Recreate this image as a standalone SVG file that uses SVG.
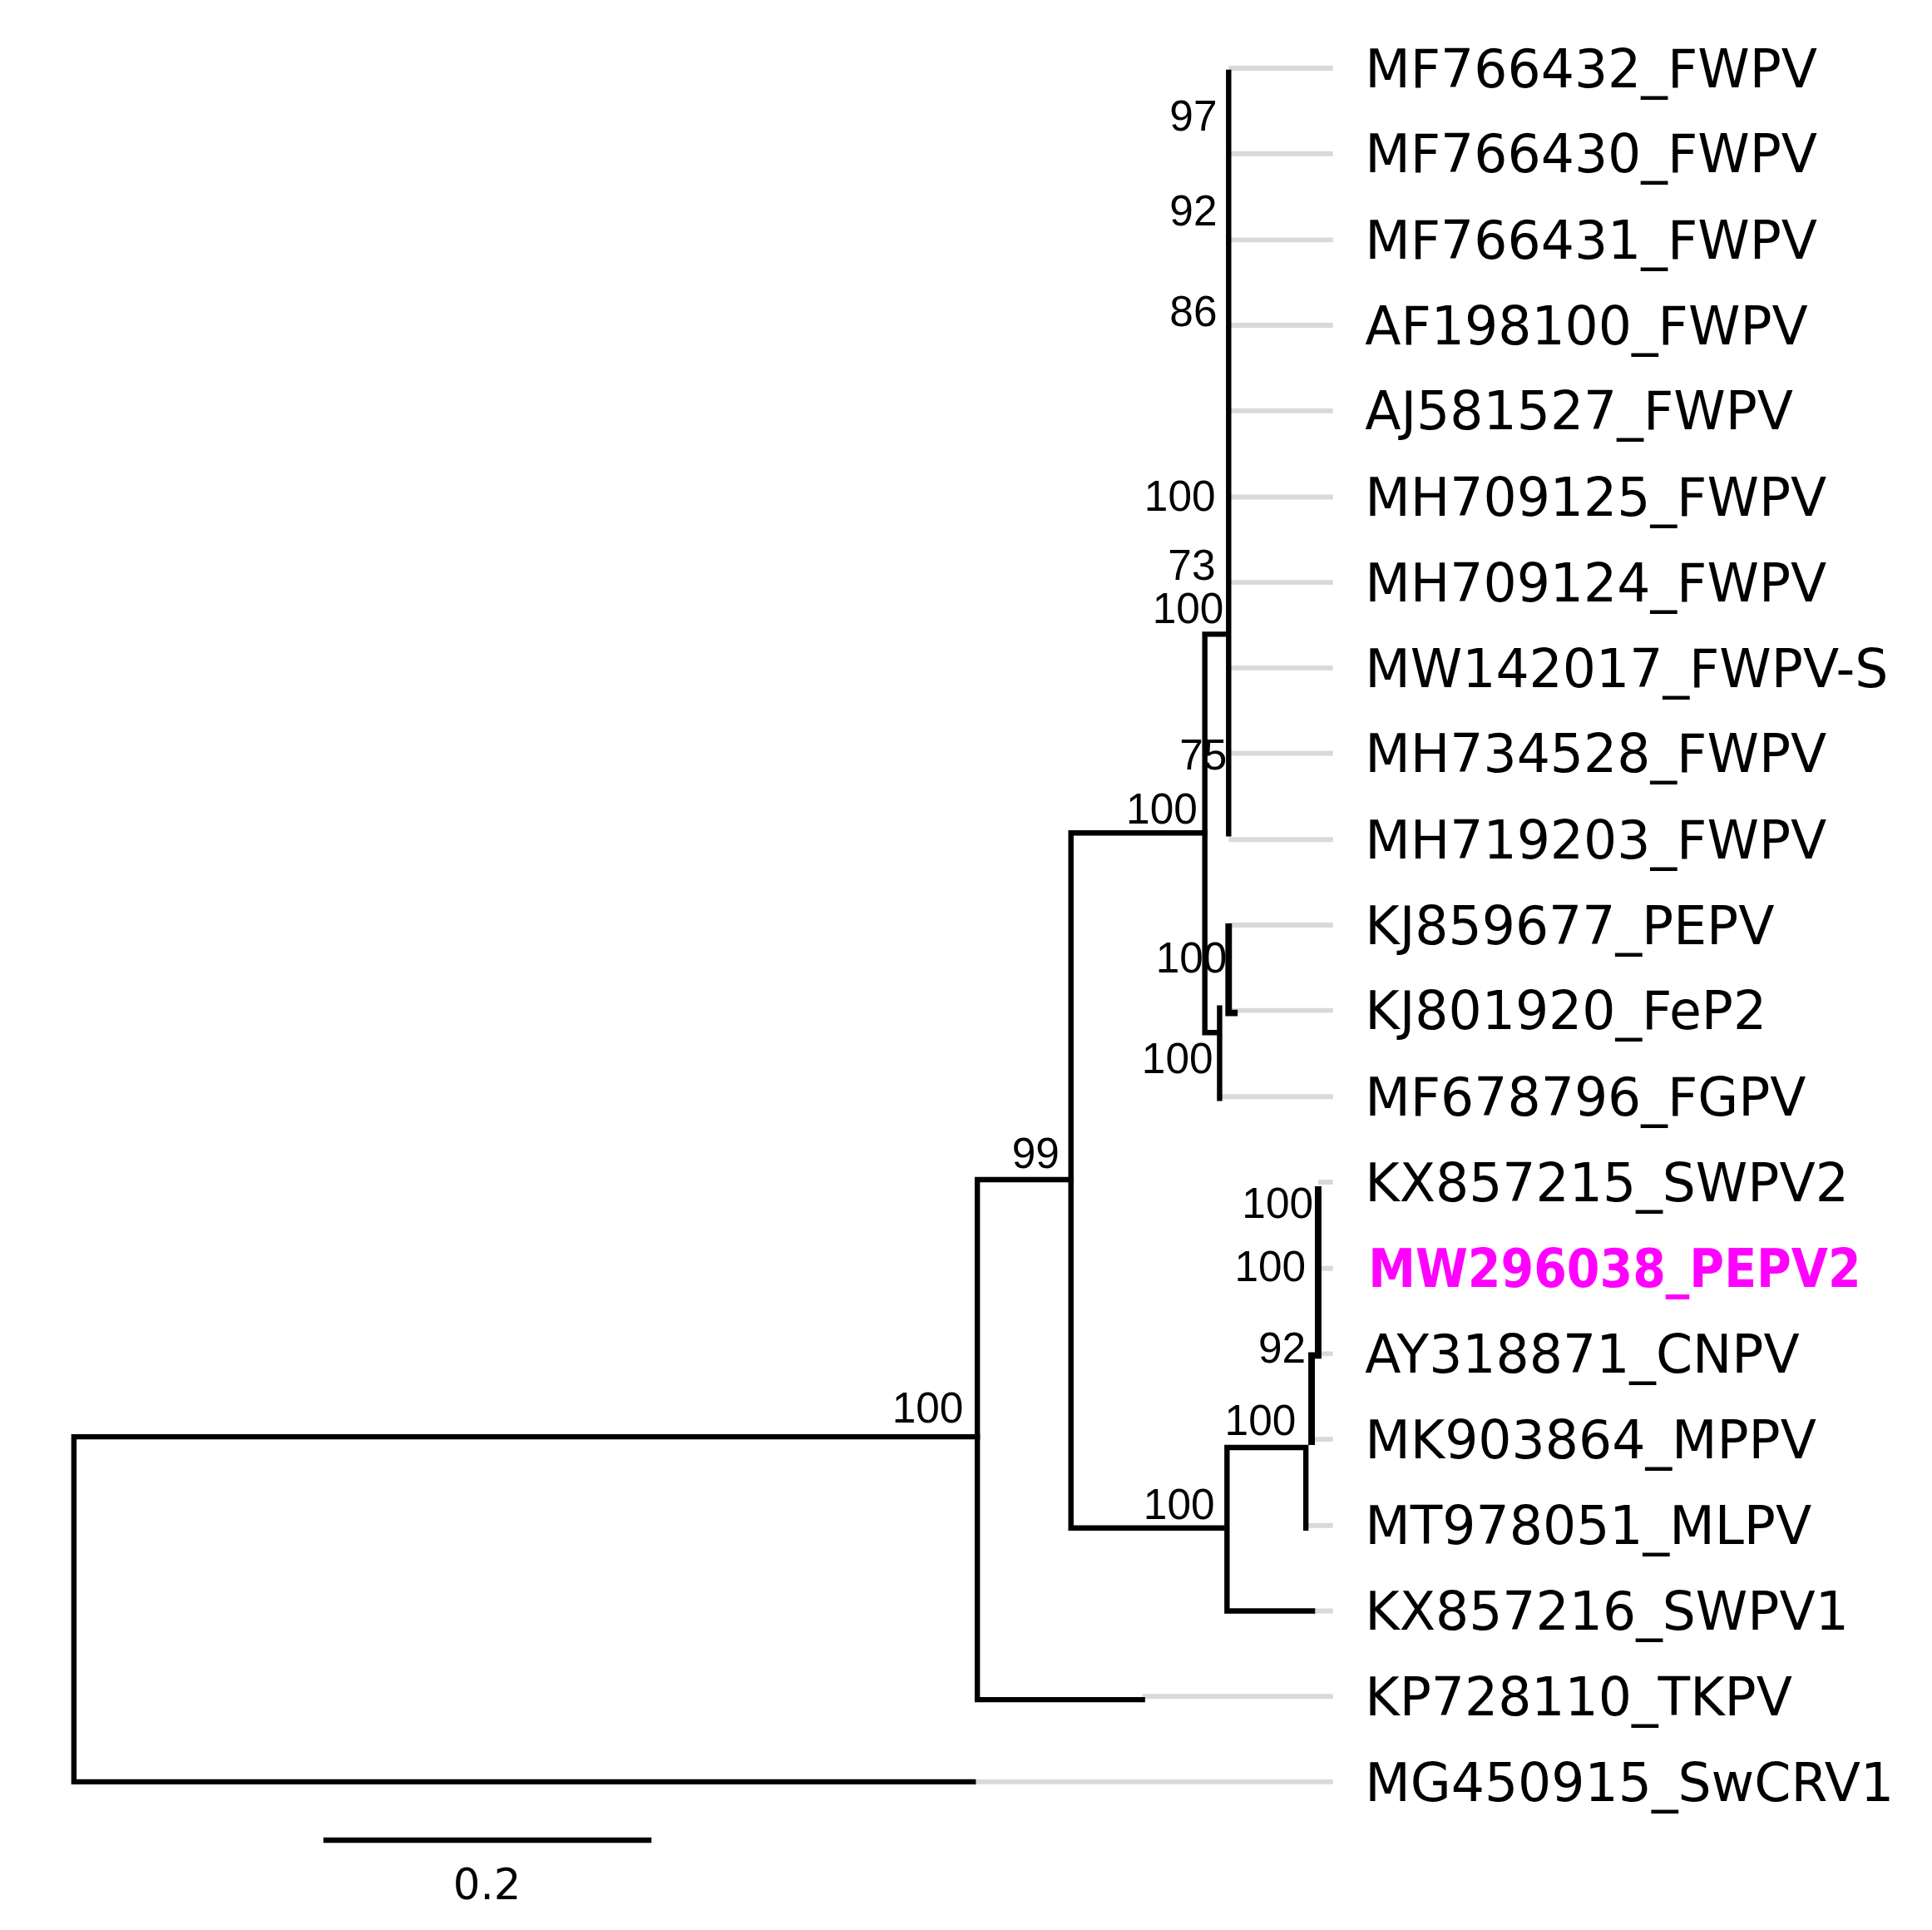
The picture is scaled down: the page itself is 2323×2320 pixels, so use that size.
<svg xmlns="http://www.w3.org/2000/svg" width="2323" height="2320" viewBox="0 0 2323 2320">
<style>
.b{stroke:#000;stroke-width:6.5;fill:none;stroke-linecap:square}
.g{stroke:#d9d9d9;stroke-width:6;fill:none}
.l{font-family:"DejaVu Sans",sans-serif;font-size:64px;fill:#000}
.s{font-family:"Liberation Sans",Arial,sans-serif;font-size:52px;fill:#000;text-anchor:end}
</style>
<rect width="2323" height="2320" fill="#fff"/>
<g transform="scale(0.9875)">
<g id="connectors">
<path class="g" d="M1496 83H1623M1496 187H1623M1496 292H1623M1496 396H1623M1496 500H1623M1496 605H1623M1496 709H1623M1496 813H1623M1496 917H1623M1496 1022H1623M1496 1126H1623M1500 1230H1623M1485 1335H1623M1605 1439H1623M1605 1544H1623M1605 1648H1623M1598 1752H1623M1590 1857H1623M1598 1961H1623M1391 2065H1623M1185 2169H1623"/>
<path class="b" d="M1496 88V1015"/>
<path class="b" d="M1467 772H1492M1467 772V1257H1485M1485 1227V1337"/>
<path class="b" d="M1496 1128V1233H1503" style="stroke-width:8"/>
<path class="b" d="M1304 1014H1467M1304 1014V1860H1494M1494 1762V1961H1598M1494 1762H1590M1590 1762V1860"/>
<path class="b" d="M1605 1448V1650M1597 1650V1755" style="stroke-width:8"/>
<path class="b" d="M1190 1436H1304M1190 1436V2069H1391"/>
<path class="b" d="M90 1749H1190M90 1749V2169H1185"/>
<path class="b" d="M397 2240H790"/>
</g>
<g id="labels">
<text class="l" x="1662" y="106">MF766432_FWPV</text>
<text class="l" x="1662" y="210">MF766430_FWPV</text>
<text class="l" x="1662" y="315">MF766431_FWPV</text>
<text class="l" x="1662" y="419">AF198100_FWPV</text>
<text class="l" x="1662" y="523">AJ581527_FWPV</text>
<text class="l" x="1662" y="628">MH709125_FWPV</text>
<text class="l" x="1662" y="732">MH709124_FWPV</text>
<text class="l" x="1662" y="836">MW142017_FWPV-S</text>
<text class="l" x="1662" y="940">MH734528_FWPV</text>
<text class="l" x="1662" y="1045">MH719203_FWPV</text>
<text class="l" x="1662" y="1149">KJ859677_PEPV</text>
<text class="l" x="1662" y="1253">KJ801920_FeP2</text>
<text class="l" x="1662" y="1358">MF678796_FGPV</text>
<text class="l" x="1662" y="1462">KX857215_SWPV2</text>
<text class="l" x="1666" y="1567" textLength="600" lengthAdjust="spacingAndGlyphs" style="fill:#ff00ff;font-weight:bold">MW296038_PEPV2</text>
<text class="l" x="1662" y="1671">AY318871_CNPV</text>
<text class="l" x="1662" y="1775">MK903864_MPPV</text>
<text class="l" x="1662" y="1880">MT978051_MLPV</text>
<text class="l" x="1662" y="1984">KX857216_SWPV1</text>
<text class="l" x="1662" y="2088">KP728110_TKPV</text>
<text class="l" x="1662" y="2192">MG450915_SwCRV1</text>
</g>
<g id="support">
<text class="s" x="1482" y="159">97</text>
<text class="s" x="1482" y="274">92</text>
<text class="s" x="1482" y="397">86</text>
<text class="s" x="1480" y="622">100</text>
<text class="s" x="1480" y="706">73</text>
<text class="s" x="1490" y="759">100</text>
<text class="s" x="1494" y="937">75</text>
<text class="s" x="1458" y="1003">100</text>
<text class="s" x="1494" y="1184">100</text>
<text class="s" x="1477" y="1306">100</text>
<text class="s" x="1290" y="1422">99</text>
<text class="s" x="1599" y="1483">100</text>
<text class="s" x="1590" y="1560">100</text>
<text class="s" x="1590" y="1659">92</text>
<text class="s" x="1578" y="1747">100</text>
<text class="s" x="1479" y="1849">100</text>
<text class="s" x="1173" y="1732">100</text>
<text x="593" y="2312" style="font-family:'DejaVu Sans',sans-serif;font-size:52px;text-anchor:middle">0.2</text>
</g>
</g>
</svg>
